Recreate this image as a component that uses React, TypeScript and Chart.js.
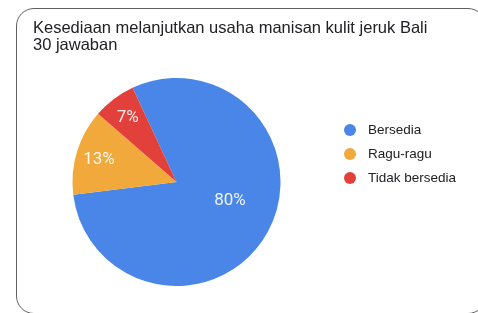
import React, { useEffect, useRef } from 'react';
import { Chart, registerables } from 'chart.js';

Chart.register(...registerables);

const TITLE = 'Kesediaan melanjutkan usaha manisan kulit jeruk Bali';
const SUBTITLE = '30 jawaban';
const categories = ['Bersedia', 'Ragu-ragu', 'Tidak bersedia'];
const responses = [24, 4, 2];
const sliceColors = ['#4a86e8', '#f1a93c', '#e2403b'];

const TEXT_FONT = '"Liberation Sans", Arial, sans-serif';

const pctLabels = {
  id: 'pctLabels',
  afterDatasetsDraw(chart: any) {
    const ctx = chart.ctx;
    const meta = chart.getDatasetMeta(0);
    const data = chart.data.datasets[0].data as number[];
    const total = data.reduce((a, b) => a + b, 0);
    ctx.save();
    ctx.font = '17px Roboto, "Noto Sans", sans-serif';
    ctx.fillStyle = 'rgba(255,255,255,0.9)';
    ctx.textAlign = 'center';
    ctx.textBaseline = 'middle';
    meta.data.forEach((arc: any, i: number) => {
      const p = arc.getProps(['x', 'y', 'startAngle', 'endAngle', 'outerRadius'], true);
      const share = data[i] / total;
      let mid = (p.startAngle + p.endAngle) / 2;
      let f = 0.78;
      if (share > 0.5) {
        mid -= (11 * Math.PI) / 180;
        f = 0.54;
      }
      const r = p.outerRadius * f;
      ctx.fillText(Math.round(share * 100) + '%', p.x + Math.cos(mid) * r, p.y + Math.sin(mid) * r + 1);
    });
    ctx.restore();
  },
};

const sideLegend = {
  id: 'sideLegend',
  afterDraw(chart: any) {
    const ctx = chart.ctx;
    const area = chart.chartArea;
    const colors = chart.data.datasets[0].backgroundColor as string[];
    const labels = chart.data.labels as string[];
    const cx = area.right + 30;
    const cy0 = area.top + 52;
    ctx.save();
    ctx.font = '13.5px ' + TEXT_FONT;
    ctx.textAlign = 'left';
    ctx.textBaseline = 'middle';
    labels.forEach((lab, i) => {
      const cy = cy0 + i * 24;
      ctx.beginPath();
      ctx.arc(cx, cy, 6, 0, Math.PI * 2);
      ctx.fillStyle = colors[i];
      ctx.fill();
      ctx.fillStyle = '#202124';
      ctx.fillText(lab, cx + 18, cy + 0.5);
    });
    ctx.restore();
  },
};

export default function App() {
  const ref = useRef<HTMLCanvasElement | null>(null);

  useEffect(() => {
    if (!ref.current) return;
    const chart = new Chart(ref.current, {
      type: 'pie',
      data: {
        labels: categories,
        datasets: [
          {
            data: responses,
            backgroundColor: sliceColors,
            borderWidth: 0,
            hoverOffset: 0,
          },
        ],
      },
      options: {
        responsive: false,
        animation: false,
        rotation: -25,
        layout: { padding: { left: 33, right: 158, top: 78, bottom: 27 } },
        plugins: {
          legend: { display: false },
          title: { display: false },
          tooltip: { enabled: false },
        },
        events: [],
      },
      plugins: [pctLabels, sideLegend],
    });
    return () => chart.destroy();
  }, []);

  return (
    <div
      style={{
        position: 'fixed',
        left: 0,
        top: 0,
        width: 478,
        height: 313,
        background: '#ffffff',
        overflow: 'hidden',
      }}
    >
      <div
        style={{
          position: 'absolute',
          left: 16,
          top: 8,
          width: 470,
          height: 306,
          border: '1.5px solid #5f5f5f',
          borderRadius: 18,
          boxSizing: 'border-box',
        }}
      />
      <canvas
        ref={ref}
        width={478}
        height={313}
        style={{ position: 'absolute', left: 0, top: 0, width: 478, height: 313 }}
      />
      <div
        style={{
          position: 'absolute',
          left: 33,
          top: 19,
          fontFamily: TEXT_FONT,
          fontSize: 16.5,
          lineHeight: '17px',
          color: '#202124',
          whiteSpace: 'nowrap',
        }}
      >
        <div>{TITLE}</div>
        <div>{SUBTITLE}</div>
      </div>
    </div>
  );
}
